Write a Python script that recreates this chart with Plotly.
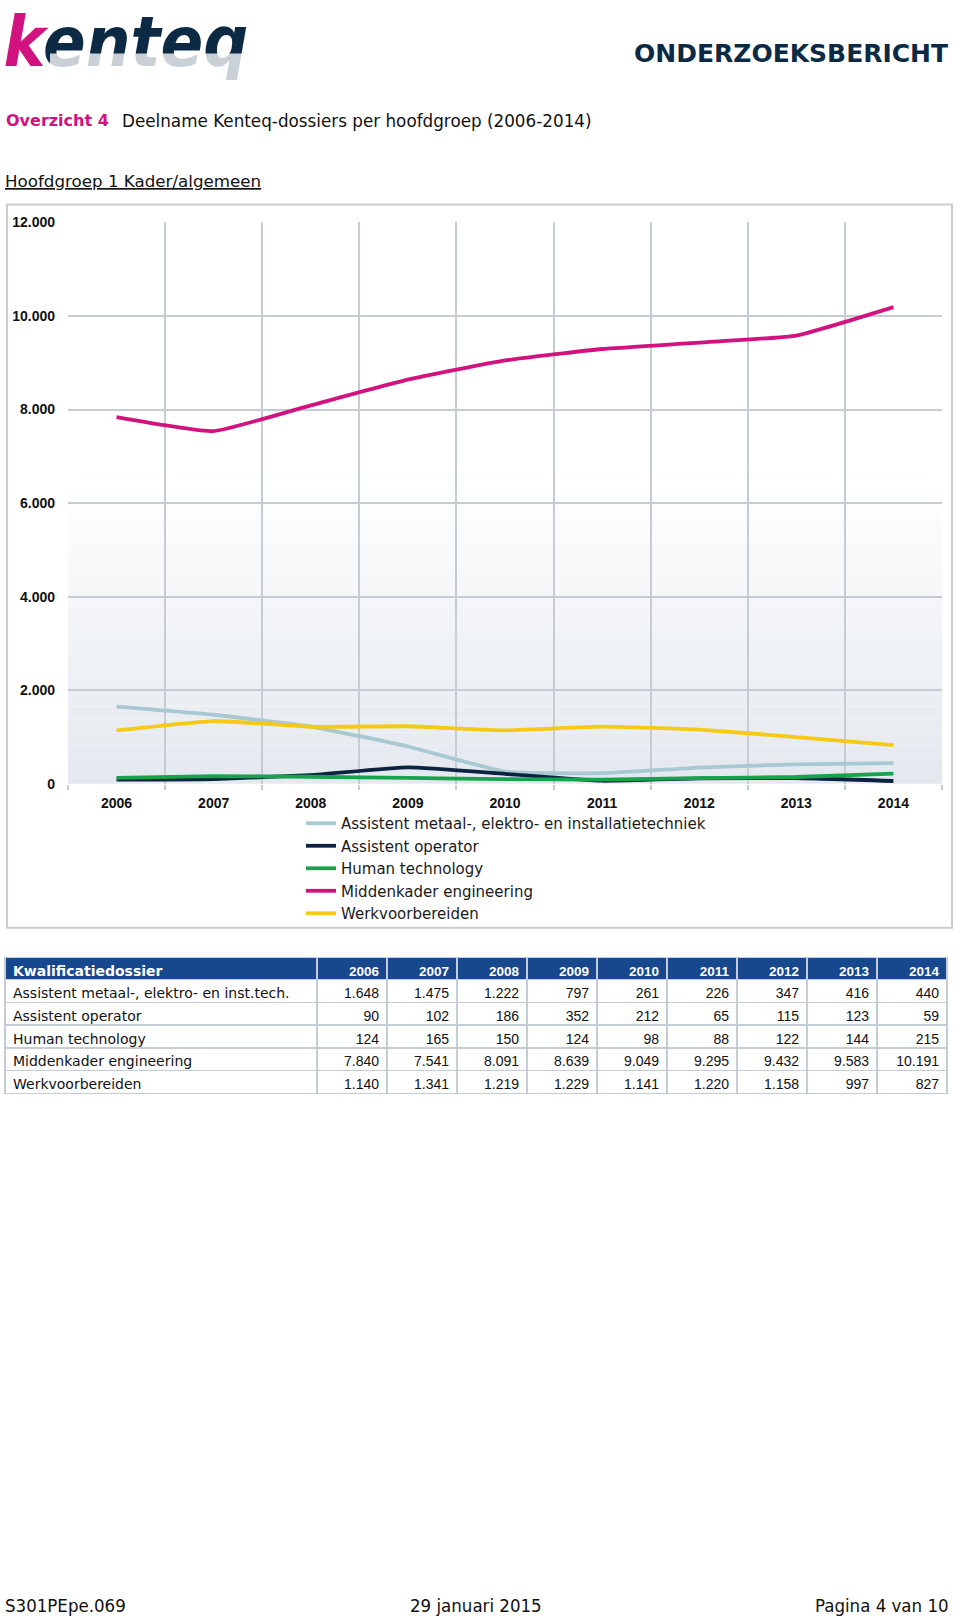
import plotly.graph_objects as go

W, H = 960, 1619

# ---------------- data ----------------
years = [2006, 2007, 2008, 2009, 2010, 2011, 2012, 2013, 2014]
year_labels = [str(y) for y in years]
series_names = [
    "Assistent metaal-, elektro- en installatietechniek",
    "Assistent operator",
    "Human technology",
    "Middenkader engineering",
    "Werkvoorbereiden",
]
table_names = [
    "Assistent metaal-, elektro- en inst.tech.",
    "Assistent operator",
    "Human technology",
    "Middenkader engineering",
    "Werkvoorbereiden",
]
metaal = [1648, 1475, 1222, 797, 261, 226, 347, 416, 440]
operator = [90, 102, 186, 352, 212, 65, 115, 123, 59]
human = [124, 165, 150, 124, 98, 88, 122, 144, 215]
middenkader = [7840, 7541, 8091, 8639, 9049, 9295, 9432, 9583, 10191]
werkvoorbereiden = [1140, 1341, 1219, 1229, 1141, 1220, 1158, 997, 827]
y_ticks = [0, 2000, 4000, 6000, 8000, 10000, 12000]
table_header_first = "Kwalificatiedossier"

series_values = [metaal, operator, human, middenkader, werkvoorbereiden]
colors = ["#a8c8d2", "#0b2241", "#16a34c", "#d1127f", "#f5c914"]

NAVY = "#0d2a45"
MAGENTA = "#d1127f"
GRID = "#c6ccd4"


def px(x):
    return x / W


def py(y):
    return 1 - y / H


fig = go.Figure()

# ---------------- lines ----------------
for name, vals, col in zip(series_names, series_values, colors):
    fig.add_trace(go.Scatter(
        x=years, y=vals, name=name, mode="lines",
        line=dict(color=col, width=3.8, shape="spline", smoothing=0.4),
        hoverinfo="skip",
    ))

# ---------------- logo ----------------
logo_x, logo_y = 126, H - 41
fig.add_trace(go.Scatter(
    x=[logo_x], y=[logo_y], mode="text",
    text=['<i><span style="color:%s">k</span>enteq</i>' % MAGENTA],
    textfont=dict(family="DejaVu Sans Condensed, DejaVu Sans", size=70, color=NAVY, weight="bold"),
    xaxis="x2", yaxis="y2", cliponaxis=False, showlegend=False, hoverinfo="skip",
))

# ---------------- table ----------------
def fmt(v):
    return f"{v:,}".replace(",", ".")

cell_cols = [table_names] + [[fmt(s[i]) for s in series_values] for i in range(len(years))]
fig.add_trace(go.Table(
    domain=dict(x=[px(5), px(947)], y=[py(1115), py(959)]),
    columnwidth=[312] + [70] * len(years),
    header=dict(
        values=[table_header_first] + year_labels,
        fill_color="#17488d",
        line=dict(color="#c4ccd6", width=1.5),
        align=["left"] + ["right"] * len(years),
        font=dict(family=["DejaVu Sans"] + ["Liberation Sans"] * len(years),
                  size=[14] + [13.5] * len(years), color="white", weight="bold"),
        height=22,
    ),
    cells=dict(
        values=cell_cols,
        fill_color="white",
        line=dict(color="#c4ccd6", width=1.5),
        align=["left"] + ["right"] * len(years),
        font=dict(family=["DejaVu Sans"] + ["Liberation Sans"] * len(years),
                  size=[14] + [14] * len(years), color="#111111"),
        height=22.8,
    ),
))

# ---------------- shapes ----------------
shapes = []
nb = 24
top_c = (255, 255, 255)
bot_c = (228, 233, 239)
for i in range(nb):
    y0 = 0.55 * i / nb
    y1 = 0.55 * (i + 1) / nb
    t = 1 - (i + 0.5) / nb
    c = tuple(int(round(top_c[k] + (bot_c[k] - top_c[k]) * t)) for k in range(3))
    shapes.append(dict(type="rect", xref="x domain", yref="y domain", x0=0, x1=1, y0=y0, y1=y1,
                       fillcolor="rgb(%d,%d,%d)" % c, line=dict(width=0), layer="below"))
# chart frame
shapes.append(dict(type="rect", xref="paper", yref="paper", x0=px(7), x1=px(952), y0=py(929), y1=py(198.5),
                   line=dict(color="#c9ccd1", width=2), fillcolor="rgba(0,0,0,0)", layer="below"))
# logo: lighten the lower half of "enteq"
shapes.append(dict(type="rect", xref="paper", yref="paper", x0=px(50), x1=px(262), y0=py(100), y1=py(46),
                   line=dict(width=0), fillcolor="rgba(255,255,255,0.78)", layer="above"))

# ---------------- annotations ----------------
ann = [
    dict(text="<b>ONDERZOEKSBERICHT</b>", x=px(950), y=py(46), xanchor="right", yanchor="middle",
         font=dict(family="DejaVu Sans", size=25, color=NAVY)),
    dict(text="<b>Overzicht 4</b>", x=px(4), y=py(114), xanchor="left", yanchor="middle",
         font=dict(family="DejaVu Sans", size=16, color=MAGENTA)),
    dict(text="Deelname Kenteq-dossiers per hoofdgroep (2006-2014)", x=px(120), y=py(114),
         xanchor="left", yanchor="middle", font=dict(family="DejaVu Sans", size=16.8, color="#111111")),
    dict(text="<u>Hoofdgroep 1 Kader/algemeen</u>", x=px(3), y=py(175), xanchor="left", yanchor="middle",
         font=dict(family="DejaVu Sans", size=16.7, color="#111111")),
    dict(text="S301PEpe.069", x=px(3), y=py(1613), xanchor="left", yanchor="middle",
         font=dict(family="DejaVu Sans Condensed, DejaVu Sans", size=18.5, color="#111111")),
    dict(text="29 januari 2015", x=px(408), y=py(1613), xanchor="left", yanchor="middle",
         font=dict(family="DejaVu Sans Condensed, DejaVu Sans", size=18.5, color="#111111")),
    dict(text="Pagina 4 van 10", x=px(951), y=py(1613), xanchor="right", yanchor="middle",
         font=dict(family="DejaVu Sans Condensed, DejaVu Sans", size=18.5, color="#111111")),
]
for a in ann:
    a.update(xref="paper", yref="paper", showarrow=False)

grid_positions = [y - 0.5 for y in years] + [years[-1] + 0.5]

fig.update_layout(
    width=W, height=H,
    margin=dict(l=0, r=0, t=0, b=0),
    paper_bgcolor="white", plot_bgcolor="white",
    separators=",.",
    showlegend=True,
    legend=dict(x=px(301), y=py(807), xanchor="left", yanchor="top",
                font=dict(family="DejaVu Sans", size=15, color="#1a1a1a"),
                bgcolor="rgba(0,0,0,0)", tracegroupgap=0, itemwidth=30),
    xaxis=dict(domain=[px(68), px(942)], range=[years[0] - 0.5, years[-1] + 0.5],
               tickmode="array", tickvals=years, ticktext=year_labels,
               showgrid=False, zeroline=False, showline=False, ticks="",
               tickfont=dict(family="Liberation Sans", size=14, color="#111111", weight="bold"),
               ticklabelstandoff=9,
               minor=dict(tickmode="array", tickvals=grid_positions, showgrid=True,
                          gridcolor=GRID, gridwidth=1.5, ticks="outside", ticklen=5, tickcolor=GRID,
                          tickwidth=1.5),
               anchor="y", fixedrange=True),
    yaxis=dict(domain=[py(783.5), py(216.6)], range=[0, 12000],
               tickmode="array", tickvals=y_ticks, tickformat=",d",
               showgrid=True, gridcolor=GRID, gridwidth=1.5, zeroline=False, showline=False, ticks="",
               tickfont=dict(family="Liberation Sans", size=14, color="#111111", weight="bold"),
               ticklabelstandoff=12, anchor="x", fixedrange=True),
    xaxis2=dict(domain=[0, px(300)], range=[0, 300], visible=False, anchor="y2", fixedrange=True),
    yaxis2=dict(domain=[py(100), 1], range=[H - 100, H], visible=False, anchor="x2", fixedrange=True),
    shapes=shapes,
    annotations=ann,
)

fig.write_html("out.html", post_script="document.body.style.margin='0';",
               config={"displayModeBar": False})
